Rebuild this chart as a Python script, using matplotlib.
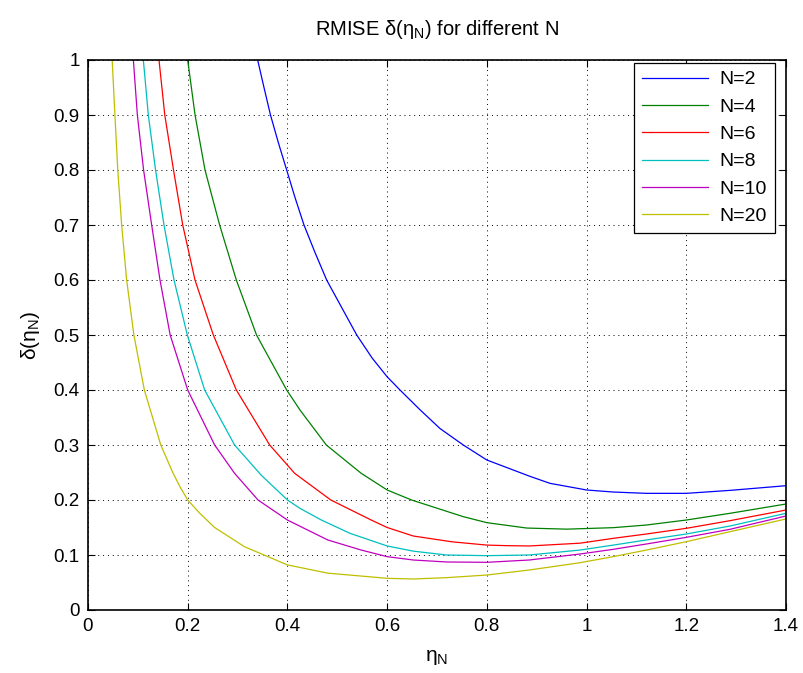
import numpy as np
import matplotlib
matplotlib.use('Agg')
import matplotlib.pyplot as plt

plt.rcParams['font.family'] = ['Liberation Sans', 'DejaVu Sans']
plt.rcParams['mathtext.fontset'] = 'custom'
plt.rcParams['mathtext.rm'] = 'Liberation Sans'
plt.rcParams['mathtext.it'] = 'Liberation Sans'
plt.rcParams['mathtext.default'] = 'rm'

# values
x_n2 = [0.3403, 0.353, 0.366, 0.3817, 0.3985, 0.4152, 0.4332, 0.4553, 0.4787, 0.5088, 0.539, 0.570,
        0.600, 0.6258, 0.666, 0.706, 0.7527, 0.800, 0.885, 0.9266, 1.000, 1.0535, 1.120, 1.200,
        1.2876, 1.400]
y_n2 = [1.0, 0.95, 0.9, 0.85, 0.8, 0.75, 0.7, 0.65, 0.6, 0.55, 0.5, 0.458,
        0.424, 0.4, 0.364, 0.33, 0.3, 0.2727, 0.2435, 0.2303, 0.2182, 0.2145, 0.2121, 0.2121,
        0.2175, 0.226]

x_n4 = [0.200, 0.2147, 0.2347, 0.264, 0.2975, 0.338, 0.3985, 0.4252, 0.478, 0.548, 0.600, 0.649,
        0.7527, 0.800, 0.880, 0.960, 1.0535, 1.120, 1.200, 1.2876, 1.400]
y_n4 = [1.0, 0.9, 0.8, 0.7, 0.6, 0.5, 0.4, 0.3636, 0.3, 0.2485, 0.2182, 0.2,
        0.1697, 0.1588, 0.149, 0.147, 0.1497, 0.1545, 0.1636, 0.1758, 0.1927]

x_n6 = [0.1424, 0.154, 0.1715, 0.190, 0.2146, 0.2514, 0.2975, 0.3644, 0.4145, 0.487, 0.568, 0.600,
        0.6525, 0.730, 0.800, 0.8396, 0.885, 0.987, 1.0535, 1.120, 1.200, 1.2876, 1.400]
y_n6 = [1.0, 0.9, 0.8, 0.7, 0.6, 0.5, 0.4, 0.3, 0.2485, 0.2, 0.1636, 0.150,
        0.1345, 0.124, 0.118, 0.117, 0.1164, 0.1215, 0.1303, 0.1382, 0.1485, 0.1624, 0.1818]

x_n8 = [0.111, 0.121, 0.1355, 0.1524, 0.1725, 0.1992, 0.234, 0.294, 0.3476, 0.400, 0.4252, 0.468,
        0.5256, 0.600, 0.6525, 0.719, 0.800, 0.885, 0.987, 1.0535, 1.120, 1.200, 1.2876, 1.400]
y_n8 = [1.0, 0.9, 0.8, 0.7, 0.6, 0.5, 0.4, 0.3, 0.245, 0.2, 0.1848, 0.1636,
        0.1394, 0.1164, 0.107, 0.100, 0.0988, 0.100, 0.109, 0.118, 0.1273, 0.1382, 0.1527, 0.1758]

x_n10 = [0.091, 0.099, 0.1115, 0.1277, 0.1444, 0.1648, 0.200, 0.254, 0.294, 0.341, 0.400, 0.481,
         0.548, 0.600, 0.6525, 0.719, 0.800, 0.885, 0.987, 1.0535, 1.120, 1.200, 1.2876, 1.400]
y_n10 = [1.0, 0.9, 0.8, 0.7, 0.6, 0.5, 0.4, 0.3, 0.2485, 0.2, 0.1636, 0.1273,
         0.109, 0.097, 0.0909, 0.0873, 0.0867, 0.0909, 0.1018, 0.1103, 0.120, 0.1321, 0.1467, 0.1709]

x_n20 = [0.0485, 0.054, 0.0597, 0.0675, 0.0775, 0.092, 0.113, 0.146, 0.170, 0.1845, 0.200, 0.224,
         0.254, 0.314, 0.400, 0.481, 0.600, 0.6525, 0.719, 0.800, 0.885, 0.987, 1.0535, 1.120,
         1.200, 1.2876, 1.400]
y_n20 = [1.0, 0.9, 0.8, 0.7, 0.6, 0.5, 0.4, 0.3, 0.25, 0.224, 0.2, 0.176,
         0.15, 0.115, 0.082, 0.067, 0.0576, 0.0564, 0.0588, 0.0636, 0.0727, 0.086, 0.097, 0.109,
         0.1242, 0.1424, 0.1655]

labels = ['N=2', 'N=4', 'N=6', 'N=8', 'N=10', 'N=20']
colors = [(0, 0, 1), (0, 0.5, 0), (1, 0, 0), (0, 0.75, 0.75), (0.75, 0, 0.75), (0.75, 0.75, 0)]
xs = [x_n2, x_n4, x_n6, x_n8, x_n10, x_n20]
ys = [y_n2, y_n4, y_n6, y_n8, y_n10, y_n20]

fig = plt.figure(figsize=(8.04, 6.73), dpi=100)
ax = fig.add_axes([88 / 804, 63 / 673, 698 / 804, 550 / 673])

for x, y, c, lab in zip(xs, ys, colors, labels):
    ax.plot(x, y, color=c, lw=0.9, label=lab, solid_joinstyle='round')

ax.set_xlim(0, 1.4)
ax.set_ylim(0, 1)
xt = [0, 0.2, 0.4, 0.6, 0.8, 1.0, 1.2, 1.4]
yt = [0, 0.1, 0.2, 0.3, 0.4, 0.5, 0.6, 0.7, 0.8, 0.9, 1.0]
ax.set_xticks(xt)
ax.set_xticklabels(['0', '0.2', '0.4', '0.6', '0.8', '1', '1.2', '1.4'])
ax.set_yticks(yt)
ax.set_yticklabels(['0', '0.1', '0.2', '0.3', '0.4', '0.5', '0.6', '0.7', '0.8', '0.9', '1'])
ax.tick_params(axis='both', which='both', direction='in', top=True, right=True,
               labelsize=13.5, length=5, width=0.8, pad=6)
ax.grid(True, color='black', linestyle=(0, (1, 4)), linewidth=0.7)
for s in ax.spines.values():
    s.set_linewidth(1.2)

ax.set_title(r'RMISE $\delta(\eta_N)$ for different N', fontsize=14.5, pad=18)
ax.set_xlabel(r'$\eta_N$', fontsize=15, labelpad=9)
ax.set_ylabel(r'$\delta(\eta_N)$', fontsize=15, labelpad=8)

leg = ax.legend(loc='upper right', fontsize=14, fancybox=False, shadow=False,
                framealpha=1, edgecolor='black', handlelength=3.4, handletextpad=0.6,
                borderaxespad=0, labelspacing=0.5,
                bbox_to_anchor=(775 / 804, (673 - 63) / 673), bbox_transform=fig.transFigure)
leg.get_frame().set_linewidth(0.9)

fig.savefig('out.png', dpi=100)
